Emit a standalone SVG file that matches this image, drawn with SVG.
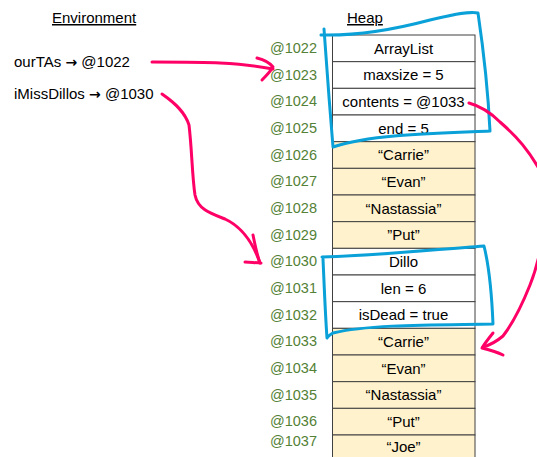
<svg xmlns="http://www.w3.org/2000/svg" width="537" height="457" viewBox="0 0 537 457">
<style>
text{font-family:"Liberation Sans",Arial,sans-serif;font-size:15px;fill:#000}
.hdr{text-decoration:underline}
.arr{font-family:"DejaVu Sans",sans-serif;font-weight:bold;font-size:14px}
.addr{fill:#538135;text-anchor:end;font-size:14.5px}
.cell text{text-anchor:middle}
.w{fill:#ffffff;stroke:#404040;stroke-width:1}
.y{fill:#fff2cc;stroke:#404040;stroke-width:1}
.pink{fill:none;stroke:#ff0066;stroke-width:3;stroke-linecap:round;stroke-linejoin:round}
.blue{fill:none;stroke:#0aa0d8;stroke-width:3;stroke-linecap:round;stroke-linejoin:round}
</style>
<rect width="537" height="457" fill="#ffffff"/>
<g id="environment">
<text x="52" y="23" class="hdr">Environment</text>
<text x="14" y="67">ourTAs <tspan class="arr">→</tspan> @1022</text>
<text x="14" y="99">iMissDillos <tspan class="arr">→</tspan> @1030</text>
</g>
<g id="heap-title"><text x="347" y="23" class="hdr">Heap</text></g>
<g id="addresses">
<text class="addr" x="317" y="53">@1022</text>
<text class="addr" x="317" y="80">@1023</text>
<text class="addr" x="317" y="106">@1024</text>
<text class="addr" x="317" y="133">@1025</text>
<text class="addr" x="317" y="160">@1026</text>
<text class="addr" x="317" y="186">@1027</text>
<text class="addr" x="317" y="213">@1028</text>
<text class="addr" x="317" y="240">@1029</text>
<text class="addr" x="317" y="266">@1030</text>
<text class="addr" x="317" y="293">@1031</text>
<text class="addr" x="317" y="320">@1032</text>
<text class="addr" x="317" y="346">@1033</text>
<text class="addr" x="317" y="373">@1034</text>
<text class="addr" x="317" y="400">@1035</text>
<text class="addr" x="317" y="426">@1036</text>
<text class="addr" x="317" y="446">@1037</text>
</g>
<g id="cell-1022" class="cell"><rect class="w" x="332.5" y="35" width="142.5" height="26.67"/><text x="403.5" y="53.5">ArrayList</text></g>
<g id="cell-1023" class="cell"><rect class="w" x="332.5" y="61.67" width="142.5" height="26.67"/><text x="403.5" y="80.2">maxsize = 5</text></g>
<g id="cell-1024" class="cell"><rect class="w" x="332.5" y="88.33" width="142.5" height="26.67"/><text x="403.5" y="106.8">contents = @1033</text></g>
<g id="cell-1025" class="cell"><rect class="w" x="332.5" y="115" width="142.5" height="26.67"/><text x="403.5" y="133.5">end = 5</text></g>
<g id="cell-1026" class="cell"><rect class="y" x="332.5" y="141.67" width="142.5" height="26.67"/><text x="403.5" y="160.2">“Carrie”</text></g>
<g id="cell-1027" class="cell"><rect class="y" x="332.5" y="168.33" width="142.5" height="26.67"/><text x="403.5" y="186.8">“Evan”</text></g>
<g id="cell-1028" class="cell"><rect class="y" x="332.5" y="195" width="142.5" height="26.67"/><text x="403.5" y="213.5">“Nastassia”</text></g>
<g id="cell-1029" class="cell"><rect class="y" x="332.5" y="221.67" width="142.5" height="26.67"/><text x="403.5" y="240.2">”Put”</text></g>
<g id="cell-1030" class="cell"><rect class="w" x="332.5" y="248.33" width="142.5" height="26.67"/><text x="403.5" y="266.8">Dillo</text></g>
<g id="cell-1031" class="cell"><rect class="w" x="332.5" y="275" width="142.5" height="26.67"/><text x="403.5" y="293.5">len = 6</text></g>
<g id="cell-1032" class="cell"><rect class="w" x="332.5" y="301.67" width="142.5" height="26.67"/><text x="403.5" y="320.2">isDead = true</text></g>
<g id="cell-1033" class="cell"><rect class="y" x="332.5" y="328.33" width="142.5" height="26.67"/><text x="403.5" y="346.8">“Carrie”</text></g>
<g id="cell-1034" class="cell"><rect class="y" x="332.5" y="355" width="142.5" height="26.67"/><text x="403.5" y="373.5">“Evan”</text></g>
<g id="cell-1035" class="cell"><rect class="y" x="332.5" y="381.67" width="142.5" height="26.67"/><text x="403.5" y="400.2">“Nastassia”</text></g>
<g id="cell-1036" class="cell"><rect class="y" x="332.5" y="408.33" width="142.5" height="26.67"/><text x="403.5" y="426.8">“Put”</text></g>
<g id="cell-1037" class="cell"><rect class="y" x="332.5" y="435" width="142.5" height="26.67"/><text x="403.5" y="452">“Joe”</text></g>
<g id="highlights">
<path class="blue" d="M 321,35 C 360,36 400,28 430,20 C 455,14 470,11 478,13 C 482,40 488,90 490,131 C 440,133 370,134 333,147 C 330,110 326,60 324,29"/>
<path class="blue" d="M 322,257 C 370,256 430,250 484,246 C 490,270 492,300 493,324 C 440,325 370,324 333,333 C 328,336 327,338 327,338 C 325,310 324,280 323,259"/>
</g>
<g id="connectors">
<path class="pink" d="M 152,62 C 180,62 205,62 220,63 C 240,64 258,66 273,69"/>
<path class="pink" d="M 257,58 C 265,60 270,63 273,67 C 270,72 265,77 262,80"/>
<path class="pink" d="M 162,94 C 175,103 185,112 189,125 C 192,150 192,175 195,195 C 198,210 212,214 225,219 C 240,226 252,240 260,263"/>
<path class="pink" d="M 253,235 C 255,245 257,255 260,263 M 245,262 C 250,262 256,263 261,263"/>
<path class="pink" d="M 469,103 C 480,106 490,112 500,122 C 515,135 530,150 545,180 C 548,220 540,260 530,285 C 522,305 513,323 503,336 C 496,342 490,345 483,347"/>
<path class="pink" d="M 493,333 C 489,338 485,343 482,348 C 490,350 497,352 503,355"/>
</g>
</svg>
